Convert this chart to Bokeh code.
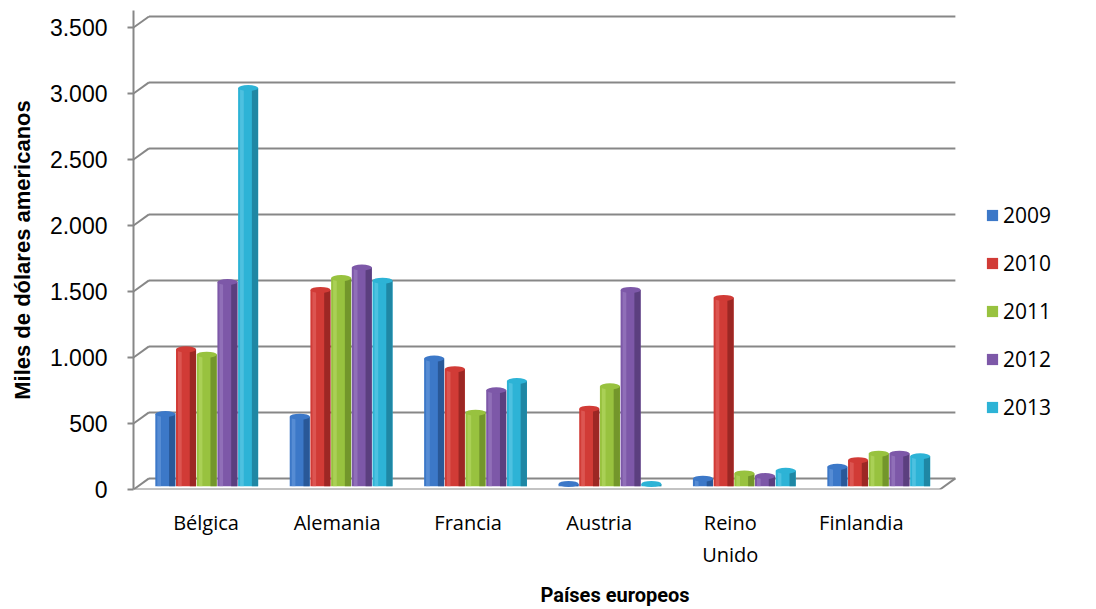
from bokeh.plotting import figure
from bokeh.models import Range1d, Legend, LegendItem, FixedTicker, ColumnDataSource
from bokeh.embed import file_html
from bokeh.resources import INLINE

countries = ["Bélgica", "Alemania", "Francia", "Austria", "Reino\nUnido", "Finlandia"]
years = ["2009", "2010", "2011", "2012", "2013"]
v2009 = [530, 510, 950, 0, 40, 130]
v2010 = [1020, 1470, 870, 570, 1410, 180]
v2011 = [980, 1560, 540, 740, 80, 230]
v2012 = [1530, 1640, 710, 1470, 60, 230]
v2013 = [3000, 1540, 780, 0, 100, 210]
series = [v2009, v2010, v2011, v2012, v2013]
colors = ["#3C78C8", "#D13B36", "#98C23F", "#7D58A8", "#2DB3D6"]
dark = ["#24508C", "#8E2320", "#6A8B27", "#533A74", "#1B7C97"]
light = ["#6FA0E0", "#E8706B", "#BCDD6E", "#A385C8", "#6ED0EA"]
y_ticks = [0, 500, 1000, 1500, 2000, 2500, 3000, 3500]
y_labels = ["0", "500", "1.000", "1.500", "2.000", "2.500", "3.000", "3.500"]

DX = 0.115   # depth offset (x units)
DY = 84      # depth offset (y units)
N = len(countries)

p = figure(width=1096, height=609, output_backend="svg", toolbar_location=None,
           x_range=Range1d(0, 7.165), y_range=Range1d(0, 3629),
           min_border_left=133, min_border_right=0, min_border_top=10, min_border_bottom=10)
p.outline_line_color = None
p.xgrid.visible = False
p.ygrid.visible = False
p.background_fill_color = "white"

grid_c = "#878787"
for t in y_ticks:
    p.segment(x0=DX, y0=t + DY, x1=N + DX, y1=t + DY, line_color=grid_c, line_width=2)
    p.segment(x0=0, y0=t, x1=DX, y1=t + DY, line_color=grid_c, line_width=2)
p.segment(x0=N, y0=0, x1=N + DX, y1=DY, line_color=grid_c, line_width=2)
p.segment(x0=0, y0=0, x1=N, y1=0, line_color=grid_c, line_width=2)

pitch = 0.154
renderers = []
for k, vals in enumerate(series):
    xs = [i + 0.545 + (k - 2) * pitch for i in range(N)]
    tops = [v + DY * 0.5 for v in vals]
    src = ColumnDataSource(dict(x=xs, top=tops))
    r = p.vbar(x="x", top="top", bottom=DY * 0.3, width=pitch * 0.97, source=src,
               fill_color=colors[k], line_color=None)
    xs_d = [x + pitch * 0.33 for x in xs]
    p.vbar(x=xs_d, top=tops, bottom=DY * 0.3, width=pitch * 0.3, fill_color=dark[k], line_color=None, fill_alpha=0.8)
    xs_l = [x - pitch * 0.3 for x in xs]
    p.vbar(x=xs_l, top=tops, bottom=DY * 0.3, width=pitch * 0.18, fill_color=light[k], line_color=None, fill_alpha=0.5)
    p.ellipse(x=xs, y=tops, width=pitch * 0.97, height=45, fill_color=colors[k], line_color=None)
    renderers.append(r)

p.xaxis.ticker = FixedTicker(ticks=[i * 0.975 + 0.54 for i in range(N)])
p.xaxis.major_label_overrides = {i * 0.975 + 0.54: c for i, c in enumerate(countries)}
p.xaxis.axis_line_color = None
p.xaxis.major_tick_line_color = None
p.xaxis.minor_tick_line_color = None
p.xaxis.major_label_text_font = "Open Sans"
p.xaxis.major_label_text_font_size = "20px"
p.xaxis.major_label_text_color = "#000000"
p.xaxis.major_label_standoff = 13
p.xaxis.axis_label = "Países europeos"
p.xaxis.axis_label_text_font = "Liberation Sans Narrow, Roboto"
p.xaxis.axis_label_text_font_style = "bold"
p.xaxis.axis_label_text_font_size = "20px"
p.xaxis.axis_label_text_color = "#000000"
p.xaxis.axis_label_standoff = 12

p.yaxis.ticker = FixedTicker(ticks=y_ticks)
p.yaxis.major_label_overrides = {t: l for t, l in zip(y_ticks, y_labels)}
p.yaxis.axis_line_color = grid_c
p.yaxis.axis_line_width = 2
p.yaxis.major_tick_line_color = grid_c
p.yaxis.major_tick_line_width = 2
p.yaxis.major_tick_out = 6
p.yaxis.major_tick_in = 0
p.yaxis.minor_tick_line_color = None
p.yaxis.major_label_text_font = "Liberation Sans"
p.yaxis.major_label_text_font_size = "23px"
p.yaxis.major_label_text_color = "#000000"
p.yaxis.major_label_standoff = 20
p.yaxis.axis_label = "Miles de dólares americanos"
p.yaxis.axis_label_text_font = "Liberation Sans"
p.yaxis.axis_label_text_font_style = "bold"
p.yaxis.axis_label_text_font_size = "22px"
p.yaxis.axis_label_text_color = "#000000"
p.yaxis.axis_label_standoff = 12

legend = Legend(items=[LegendItem(label=y, renderers=[r]) for y, r in zip(years, renderers)],
                location=(852, 68), orientation="vertical")
legend.label_text_font = "Open Sans"
legend.label_text_font_size = "21px"
legend.label_text_color = "#000000"
legend.glyph_width = 14
legend.glyph_height = 14
legend.label_height = 20
legend.spacing = 20
legend.padding = 0
legend.margin = 0
legend.label_standoff = 4
legend.border_line_color = None
legend.background_fill_alpha = 0
p.add_layout(legend, "center")

open("out.html", "w").write(file_html(p, INLINE))
